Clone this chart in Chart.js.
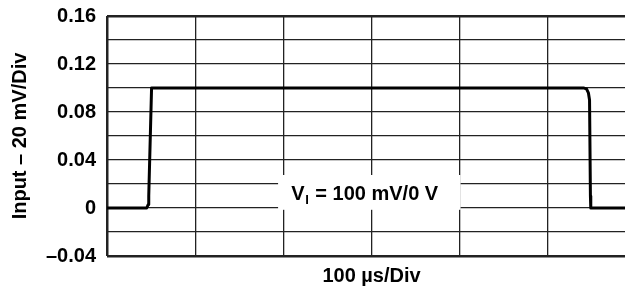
<!DOCTYPE html>
<html>
<head>
<meta charset="utf-8">
<script src="https://cdn.jsdelivr.net/npm/chart.js@4"></script>
<style>
  html, body { margin: 0; padding: 0; background: #fff; overflow: hidden; }
  #wrap { width: 646px; height: 288px; }
</style>
</head>
<body>
<div id="wrap"><canvas id="chartInput"></canvas></div>
<script>
// data (x in µs, y in V)
const timeUs = [0, 45, 46.8, 47.3, 50.5, 541, 544, 546, 547.3, 548.3, 548.7, 600];
const inputV = [0, 0, 0.003, 0.01, 0.1, 0.1, 0.099, 0.096, 0.09, 0.01, 0, 0];
const yTickValues = [-0.04, 0, 0.04, 0.08, 0.12, 0.16];
const yTickLabels = ["\u20130.04", "0", "0.04", "0.08", "0.12", "0.16"];
const noteMain = " = 100 mV/0 V";
const noteSub = "I";

const FONT = "'Liberation Sans', Arial, sans-serif";

// white box with the V_I note
const notePlugin = {
    id: "note",
    afterDatasetsDraw(chart) {
        const { ctx, scales } = chart;
        const x = scales.x, y = scales.y;
        const left = x.getPixelForValue(194), right = x.getPixelForValue(401);
        const top = y.getPixelForValue(0.0275), bottom = y.getPixelForValue(-0.0015);
        ctx.save();
        ctx.fillStyle = "#fff";
        ctx.fillRect(left, top, right - left, bottom - top);
        ctx.fillStyle = "#000";
        ctx.textBaseline = "alphabetic";
        const base = y.getPixelForValue(0.0066);
        let px = x.getPixelForValue(209);
        ctx.font = "bold 20px " + FONT;
        ctx.fillText("V", px, base);
        px += ctx.measureText("V").width;
        ctx.font = "bold 13px " + FONT;
        ctx.fillText(noteSub, px + 0.5, base + 4);
        px += ctx.measureText(noteSub).width + 1.5;
        ctx.font = "bold 20px " + FONT;
        ctx.fillText(noteMain, px, base);
        ctx.restore();
    }
};

new Chart(document.getElementById("chartInput"), {
    type: "line",
    data: {
        datasets: [{
            data: timeUs.map((t, i) => ({ x: t, y: inputV[i] })),
            borderColor: "#000",
            borderWidth: 3,
            pointRadius: 0,
            tension: 0,
            borderJoinStyle: "round"
        }]
    },
    options: {
        responsive: true,
        maintainAspectRatio: false,
        animation: false,
        layout: { padding: { top: 0, right: 10, left: 0, bottom: 0 } },
        plugins: { legend: { display: false }, tooltip: { enabled: false } },
        scales: {
            x: {
                type: "linear",
                min: 0,
                max: 600,
                border: { display: false },
                grid: {
                    color: "#222",
                    lineWidth: c => (c.tick.value === 0 ? 2.5 : 1.3),
                    drawTicks: false
                },
                ticks: { stepSize: 100, display: false },
                title: {
                    display: true,
                    text: "100 \u00b5s/Div",
                    color: "#000",
                    font: { family: FONT, size: 20, weight: "bold" },
                    padding: { top: 8, bottom: 0 }
                }
            },
            y: {
                min: -0.04,
                max: 0.16,
                border: { display: false },
                grid: {
                    color: "#222",
                    lineWidth: c => (Math.abs(c.tick.value - 0.16) < 1e-6 || Math.abs(c.tick.value + 0.04) < 1e-6 ? 2.5 : 1.3),
                    drawTicks: false
                },
                ticks: {
                    stepSize: 0.02,
                    autoSkip: false,
                    padding: 11,
                    color: "#000",
                    font: { family: FONT, size: 20, weight: "bold", lineHeight: 0.5 },
                    callback: v => {
                        const i = yTickValues.findIndex(t => Math.abs(t - v) < 1e-6);
                        return i >= 0 ? yTickLabels[i] : "";
                    }
                },
                title: {
                    display: true,
                    text: "Input \u2013 20 mV/Div",
                    color: "#000",
                    font: { family: FONT, size: 20, weight: "bold" },
                    padding: { top: 8, bottom: 3 }
                }
            }
        }
    },
    plugins: [notePlugin]
});
</script>
</body>
</html>
